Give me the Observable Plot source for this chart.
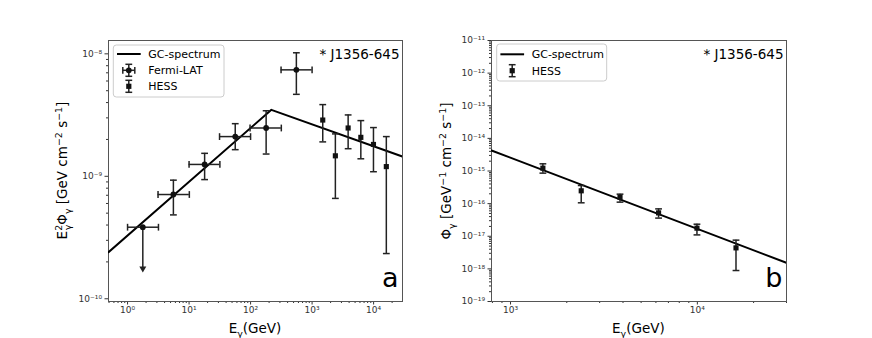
<!DOCTYPE html>
<html><head><meta charset="utf-8">
<script src="https://cdn.jsdelivr.net/npm/d3@7"></script>
<script src="https://cdn.jsdelivr.net/npm/@observablehq/plot@0.6"></script>
<style>
body{margin:0;background:#fff;}
#wrap{position:relative;width:872px;height:338px;font-family:"DejaVu Sans",sans-serif;}
#wrap > svg, #wrap > div{position:absolute;top:0;}
</style></head><body><div id="wrap"></div>
<script>
// ---------- Panel a : E^2 Phi ----------
const fermiEnergy      = [1.77, 5.56, 17.9, 56.3, 179, 555];
const fermiEnergyLow   = [1.0, 3.13, 10.0, 31.3, 98, 313];
const fermiEnergyHigh  = [3.18, 10.1, 31.7, 100, 316, 1000];
const fermiE2Flux      = [3.84e-10, 7.1e-10, 1.25e-9, 2.11e-9, 2.48e-9, 7.4e-9];
const fermiE2FluxLow   = [1.72e-10, 4.84e-10, 9.4e-10, 1.65e-9, 1.52e-9, 4.67e-9];
const fermiE2FluxHigh  = [3.84e-10, 9.3e-10, 1.54e-9, 2.69e-9, 3.43e-9, 1.02e-8];
const fermiUpperLimit  = [true, false, false, false, false, false];

const hessEnergy       = [1490, 2390, 3855, 6200, 9950, 16100];
const hessE2Flux       = [2.88e-9, 1.47e-9, 2.48e-9, 2.08e-9, 1.82e-9, 1.2e-9];
const hessE2FluxLow    = [1.91e-9, 6.6e-10, 1.68e-9, 1.39e-9, 1.09e-9, 2.34e-10];
const hessE2FluxHigh   = [3.85e-9, 2.22e-9, 3.17e-9, 2.85e-9, 2.5e-9, 2.11e-9];

const gcEnergyA        = [0.49, 218, 29500];
const gcE2FluxA        = [2.4e-10, 3.49e-9, 1.45e-9];

// ---------- Panel b : Phi ----------
const hessFlux         = [1.22e-15, 2.47e-16, 1.57e-16, 5.2e-17, 1.77e-17, 4.4e-18];
const hessFluxLow      = [8.6e-16, 1.06e-16, 1.11e-16, 3.6e-17, 1.1e-17, 8.9e-19];
const hessFluxHigh     = [1.66e-15, 3.59e-16, 1.95e-16, 6.9e-17, 2.34e-17, 7.6e-18];

const gcEnergyB        = [791, 30000];
const gcFluxB          = [4.25e-15, 1.53e-18];

// ---------- ticks ----------
const xTicksA = [1, 10, 100, 1000, 10000];
const yTicksA = [1e-10, 1e-9, 1e-8];
const xTicksB = [1000, 10000];
const yTicksB = [1e-19, 1e-18, 1e-17, 1e-16, 1e-15, 1e-14, 1e-13, 1e-12, 1e-11];

const xDomainA = [0.49, 29500], yDomainA = [9.5e-11, 1.285e-8];
const xDomainB = [791, 30000],  yDomainB = [1e-19, 1e-11];

const sup = {"-":"⁻","0":"⁰","1":"¹","2":"²","3":"³","4":"⁴","5":"⁵","6":"⁶","7":"⁷","8":"⁸","9":"⁹"};
const fmt = d => "10" + String(Math.round(Math.log10(d))).replace(/./g, c => sup[c]);
function minors(domain) {
  const out = [];
  const lo = Math.floor(Math.log10(domain[0])), hi = Math.ceil(Math.log10(domain[1]));
  for (let p = lo; p <= hi; p++) for (let m = 2; m <= 9; m++) {
    const v = m * Math.pow(10, p);
    if (v >= domain[0] && v <= domain[1]) out.push(v);
  }
  return out;
}

const fermi = fermiEnergy.map((e, i) => ({E: e, Elo: fermiEnergyLow[i], Ehi: fermiEnergyHigh[i],
  F: fermiE2Flux[i], lo: fermiE2FluxLow[i], hi: fermiE2FluxHigh[i], ul: fermiUpperLimit[i]}));
const hessA = hessEnergy.map((e, i) => ({E: e, F: hessE2Flux[i], lo: hessE2FluxLow[i], hi: hessE2FluxHigh[i]}));
const hessB = hessEnergy.map((e, i) => ({E: e, F: hessFlux[i], lo: hessFluxLow[i], hi: hessFluxHigh[i]}));
const gcA = gcEnergyA.map((e, i) => ({E: e, F: gcE2FluxA[i]}));
const gcB = gcEnergyB.map((e, i) => ({E: e, F: gcFluxB[i]}));

const cap = {draw(ctx, size) { const w = Math.sqrt(size / Math.PI); ctx.moveTo(-w, 0); ctx.lineTo(w, 0); }};
const ink = "#111", barInk = "#222";

function axes(xD, yD, xT, yT) {
  return [
    Plot.axisX({ticks: xT, tickFormat: fmt, tickSize: 3.5, tickPadding: 2, fontSize: 9, label: null, stroke: "#333", fill: "#333"}),
    Plot.axisX({ticks: minors(xD), tickFormat: () => "", tickSize: 2, label: null, stroke: "#333"}),
    Plot.axisY({ticks: yT, tickFormat: fmt, tickSize: 3.5, tickPadding: 3, fontSize: 9, label: null, stroke: "#333", fill: "#333"}),
    Plot.axisY({ticks: minors(yD), tickFormat: () => "", tickSize: 2, label: null, stroke: "#333"}),
    Plot.frame({stroke: "#555"})
  ];
}
function errorMarks(data) {
  const normal = data.filter(d => !d.ul);
  return [
    Plot.ruleX(data, {x: "E", y1: "lo", y2: "hi", stroke: barInk, strokeWidth: 1.5}),
    Plot.dot(normal, {x: "E", y: "lo", symbol: cap, r: 3.4, stroke: barInk, strokeWidth: 1.5}),
    Plot.dot(normal, {x: "E", y: "hi", symbol: cap, r: 3.4, stroke: barInk, strokeWidth: 1.5})
  ];
}
function labels(id, letter) {
  return [
    Plot.text(["* J1356-645"], {frameAnchor: "top-right", textAnchor: "end", dx: -3, dy: 8.5, fontSize: 13.5, fill: "#000"}),
    Plot.text([letter], {frameAnchor: "bottom-right", textAnchor: "end", dx: -4, dy: -14.5, fontSize: 27, fill: "#000"})
  ];
}

const style = {fontFamily: "DejaVu Sans", background: "transparent", color: "#222", overflow: "visible"};

const plotA = Plot.plot({
  width: 436, height: 338, marginLeft: 108, marginRight: 34, marginTop: 40, marginBottom: 37,
  x: {type: "log", domain: xDomainA}, y: {type: "log", domain: yDomainA}, style,
  marks: [
    ...axes(xDomainA, yDomainA, xTicksA, yTicksA),
    Plot.line(gcA, {x: "E", y: "F", stroke: "#000", strokeWidth: 2, clip: true}),
    Plot.ruleY(fermi, {y: "F", x1: "Elo", x2: "Ehi", stroke: barInk, strokeWidth: 1.5}),
    Plot.dot(fermi, {x: "Elo", y: "F", symbol: cap, rotate: 90, r: 3.4, stroke: barInk, strokeWidth: 1.5}),
    Plot.dot(fermi, {x: "Ehi", y: "F", symbol: cap, rotate: 90, r: 3.4, stroke: barInk, strokeWidth: 1.5}),
    ...errorMarks(fermi),
    Plot.dot(fermi.filter(d => d.ul), {x: "E", y: "lo", symbol: "triangle", rotate: 180, r: 2.6, fill: barInk, stroke: "none", dy: -1.5}),
    Plot.dot(fermi, {x: "E", y: "F", r: 2.9, fill: ink, stroke: "none"}),
    ...errorMarks(hessA),
    Plot.dot(hessA, {x: "E", y: "F", symbol: "square", r: 2.9, fill: ink, stroke: "none"}),
    ...labels("a", "a")
  ]
});

const plotB = Plot.plot({
  width: 436, height: 338, marginLeft: 55, marginRight: 86, marginTop: 40, marginBottom: 37,
  x: {type: "log", domain: xDomainB}, y: {type: "log", domain: yDomainB}, style,
  marks: [
    ...axes(xDomainB, yDomainB, xTicksB, yTicksB),
    Plot.line(gcB, {x: "E", y: "F", stroke: "#000", strokeWidth: 2, clip: true}),
    ...errorMarks(hessB),
    Plot.dot(hessB, {x: "E", y: "F", symbol: "square", r: 2.9, fill: ink, stroke: "none"}),
    ...labels("b", "b")
  ]
});

const wrap = document.getElementById("wrap");
plotA.style.left = "0px";
plotB.style.left = "436px";
wrap.appendChild(plotA);
wrap.appendChild(plotB);

// ---------- overlay: axis titles and legends ----------
const NS = "http://www.w3.org/2000/svg";
const ov = d3.select(wrap).append("svg").attr("width", 872).attr("height", 338)
  .style("left", "0px").style("pointer-events", "none")
  .attr("font-family", "DejaVu Sans").attr("fill", "#000");

function richText(g, segs, size) {
  const t = g.append("text").attr("font-size", size);
  let cur = 0;
  for (const s of segs) {
    const shift = s.shift || 0;
    const sp = t.append("tspan").text(s.t).attr("dy", shift - cur);
    if (s.small) sp.attr("font-size", size * 0.7);
    if (s.dx) sp.attr("dx", s.dx);
    cur = shift;
  }
  if (cur) t.append("tspan").text("\u200b").attr("dy", -cur);
  return t;
}
const up = -5.5, dn = 3.5;
// x titles
[[255, 333.3], [638.4, 333.3]].forEach(([x, y]) => {
  const g = ov.append("g").attr("transform", `translate(${x},${y})`);
  richText(g, [{t: "E"}, {t: "γ", small: true, shift: dn}, {t: "(GeV)"}], 13.5).attr("text-anchor", "middle");
});
// y title a
{
  const g = ov.append("g").attr("transform", "translate(67,170.5) rotate(-90)");
  richText(g, [{t: "E"}, {t: "2", small: true, shift: up}, {t: "γ", small: true, shift: dn, dx: -5.5},
    {t: "Φ"}, {t: "γ", small: true, shift: dn}, {t: " [GeV cm"}, {t: "−2", small: true, shift: up},
    {t: " s"}, {t: "−1", small: true, shift: up}, {t: "]"}], 13.5).attr("text-anchor", "middle");
}
// y title b
{
  const g = ov.append("g").attr("transform", "translate(451,171) rotate(-90)");
  richText(g, [{t: "Φ"}, {t: "γ", small: true, shift: dn}, {t: " [GeV"}, {t: "−1", small: true, shift: up},
    {t: " cm"}, {t: "−2", small: true, shift: up}, {t: " s"}, {t: "−1", small: true, shift: up}, {t: "]"}], 13.5)
    .attr("text-anchor", "middle");
}

function legend(x, y, w, h, items) {
  const g = ov.append("g");
  g.append("rect").attr("x", x).attr("y", y).attr("width", w).attr("height", h).attr("rx", 3)
    .attr("fill", "#fff").attr("fill-opacity", 0.8).attr("stroke", "#ccc").attr("stroke-width", 1);
  items.forEach(it => {
    const cy = it.y, cx = x + 15.5;
    if (it.kind === "line") {
      g.append("line").attr("x1", x + 3.7).attr("x2", x + 27.4).attr("y1", cy).attr("y2", cy)
        .attr("stroke", "#000").attr("stroke-width", 2);
    } else {
      g.append("line").attr("x1", cx).attr("x2", cx).attr("y1", cy - 6).attr("y2", cy + 6).attr("stroke", barInk).attr("stroke-width", 1.5);
      g.append("line").attr("x1", cx - 3.4).attr("x2", cx + 3.4).attr("y1", cy - 6).attr("y2", cy - 6).attr("stroke", barInk).attr("stroke-width", 1.5);
      g.append("line").attr("x1", cx - 3.4).attr("x2", cx + 3.4).attr("y1", cy + 6).attr("y2", cy + 6).attr("stroke", barInk).attr("stroke-width", 1.5);
      if (it.kind === "circle") {
        g.append("line").attr("x1", cx - 6).attr("x2", cx + 6).attr("y1", cy).attr("y2", cy).attr("stroke", barInk).attr("stroke-width", 1.5);
        g.append("line").attr("x1", cx - 6).attr("x2", cx - 6).attr("y1", cy - 3.4).attr("y2", cy + 3.4).attr("stroke", barInk).attr("stroke-width", 1.5);
        g.append("line").attr("x1", cx + 6).attr("x2", cx + 6).attr("y1", cy - 3.4).attr("y2", cy + 3.4).attr("stroke", barInk).attr("stroke-width", 1.5);
        g.append("circle").attr("cx", cx).attr("cy", cy).attr("r", 2.9).attr("fill", ink);
      } else {
        g.append("rect").attr("x", cx - 2.6).attr("y", cy - 2.6).attr("width", 5.2).attr("height", 5.2).attr("fill", ink);
      }
    }
    g.append("text").attr("x", x + 35).attr("y", cy).attr("dy", "0.35em").attr("font-size", 11).text(it.label);
  });
}
legend(113.3, 45, 110.7, 52, [
  {kind: "line", label: "GC-spectrum", y: 54},
  {kind: "circle", label: "Fermi-LAT", y: 70.3},
  {kind: "square", label: "HESS", y: 86.3}
]);
legend(496.7, 44, 110, 37, [
  {kind: "line", label: "GC-spectrum", y: 54.3},
  {kind: "square", label: "HESS", y: 70.7}
]);
</script></body></html>
